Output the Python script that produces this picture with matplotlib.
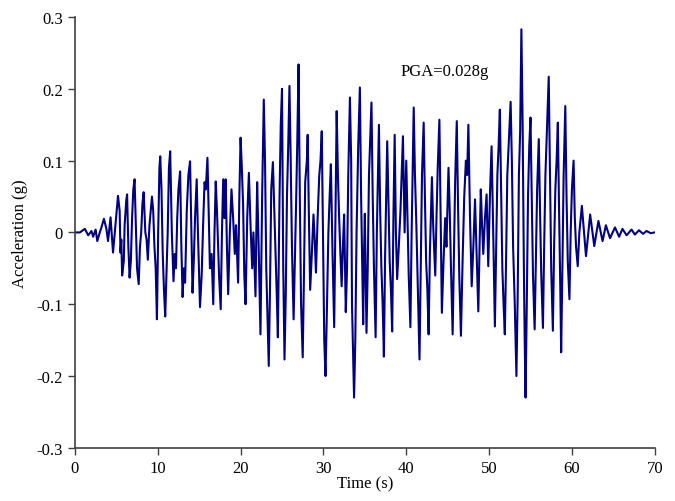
import matplotlib
matplotlib.use('Agg')
import matplotlib.pyplot as plt

# peaks, troughs and shoulders (time in s, acceleration in g)
time_s = [
    0, 0.6, 1.2, 1.6, 2.0, 2.2, 2.5, 2.7, 3.0, 3.2, 3.5, 3.8, 4.0, 4.3, 4.6, 4.9,
    5.2, 5.4, 5.5, 5.6, 5.7, 5.9, 6.0, 6.2, 6.3, 6.45, 6.6, 6.75, 6.9, 7.05, 7.2, 7.35,
    7.5, 7.7, 7.85, 8.0, 8.15, 8.3, 8.5, 8.65, 8.8, 9.0, 9.15, 9.3, 9.45, 9.6, 9.75, 9.9,
    10.05, 10.2, 10.3, 10.45, 10.6, 10.75, 10.9, 11.05, 11.2, 11.35, 11.5, 11.7, 11.9,
    12.05, 12.2, 12.35, 12.5, 12.7, 12.85, 13.0, 13.15, 13.3, 13.5, 13.7, 13.9, 14.05,
    14.2, 14.35, 14.5, 14.7, 14.85, 15.1, 15.3, 15.5, 15.65, 15.8, 16.0, 16.15, 16.3,
    16.5, 16.7, 16.85, 17.0, 17.15, 17.4, 17.6, 17.75, 17.9, 18.05, 18.2, 18.35, 18.5,
    18.7, 18.9, 19.1, 19.3, 19.45, 19.7, 19.85,
    20.0, 20.15, 20.3, 20.45, 20.6, 20.8, 21.0, 21.2, 21.4, 21.55, 21.8, 21.9, 22.0,
    22.2, 22.4, 22.6, 22.8, 22.95, 23.1, 23.25, 23.4, 23.55, 23.7, 23.9, 24.05, 24.2,
    24.35, 24.5, 24.7, 24.85, 25.0, 25.15, 25.3, 25.45, 25.6, 25.75, 25.9, 26.05, 26.2,
    26.4, 26.55, 26.7, 26.85, 27.0, 27.15, 27.3, 27.5, 27.65, 27.8, 28.0, 28.1, 28.25,
    28.4, 28.6, 28.8, 28.95, 29.1, 29.3, 29.5, 29.65, 29.8, 29.95,
    30.1, 30.25, 30.4, 30.6, 30.75, 30.9, 31.1, 31.3, 31.45, 31.6, 31.75, 31.9, 32.05,
    32.2, 32.35, 32.5, 32.7, 32.85, 33.0, 33.2, 33.35, 33.45, 33.7, 33.85, 34.0, 34.2,
    34.4, 34.55, 34.8, 34.9, 35.0, 35.2, 35.35, 35.5, 35.65, 35.8, 35.95, 36.1, 36.3,
    36.45, 36.7, 36.85, 37.0, 37.15, 37.3, 37.45, 37.7, 37.85, 38.0, 38.15, 38.3, 38.45,
    38.6, 38.75, 38.9, 39.1, 39.3, 39.45, 39.6, 39.8,
    40.0, 40.15, 40.3, 40.5, 40.65, 40.9, 41.05, 41.2, 41.4, 41.6, 41.75, 41.9, 42.1,
    42.25, 42.4, 42.55, 42.7, 42.85, 43.1, 43.25, 43.5, 43.65, 43.8, 44.0, 44.15, 44.3,
    44.5, 44.7, 44.85, 45.1, 45.25, 45.4, 45.6, 45.75, 45.9, 46.1, 46.25, 46.4, 46.6,
    46.8, 47.0, 47.2, 47.35, 47.5, 47.7, 47.9, 48.1, 48.3, 48.5, 48.7, 48.85, 49.0,
    49.15, 49.3, 49.5, 49.7, 49.9,
    50.1, 50.3, 50.5, 50.7, 50.85, 51.0, 51.15, 51.3, 51.45, 51.6, 51.75, 51.9, 52.05,
    52.2, 52.4, 52.6, 52.75, 52.9, 53.1, 53.3, 53.45, 53.6, 53.75, 53.9, 54.05, 54.2,
    54.3, 54.4, 54.55, 54.7, 54.85, 55.0, 55.15, 55.3, 55.5, 55.65, 55.8, 56.0, 56.15,
    56.3, 56.5, 56.65, 56.8, 57.0, 57.2, 57.35, 57.5, 57.7, 57.85, 58.0, 58.15, 58.3,
    58.45, 58.6, 58.7, 58.85, 59.0, 59.2, 59.35, 59.5, 59.7, 59.85,
    60.0, 60.2, 60.35, 60.5, 60.7, 60.9, 61.2, 61.7, 62.2, 62.7, 63.2, 63.7, 64.1,
    64.6, 65.2, 65.7, 66.1, 66.6, 67.2, 67.6, 68.1, 68.6, 69.0, 69.5, 70.0]

acc_g = [
    0, 0.0, 0.005, -0.004, 0.002, -0.006, 0.004, -0.012, 0.0, 0.007, 0.019, 0.005,
    -0.012, 0.021, -0.028, 0.012,
    0.051, 0.03, -0.028, -0.01, -0.06, -0.04, 0.01, 0.045, 0.053, -0.02, -0.063, -0.04,
    0.02, 0.06, 0.074, 0.01,
    -0.05, -0.072, -0.02, 0.0, 0.04, 0.056, 0.0, -0.01, -0.038, 0.01, 0.03, 0.05, 0.03,
    -0.02, -0.05, -0.121,
    0.0, 0.09, 0.106, 0.06, -0.03, -0.08, -0.117, -0.06, 0.0, 0.09, 0.113, 0.0, -0.068,
    -0.03, -0.05, 0.02, 0.06, 0.085, -0.02, -0.09, -0.05, -0.07, 0.03, 0.08, 0.099, 0.01,
    -0.084, -0.04, 0.02, 0.074, 0.0, -0.104, -0.06, 0.02, 0.07, 0.06, 0.104, 0.03, -0.05,
    -0.03, -0.1, 0.0, 0.071, 0.03, -0.06, -0.107, 0.0, 0.074, 0.02, 0.074, -0.02, -0.086,
    0.0, 0.06, 0.02, -0.03, 0.01, -0.07, 0.05,
    0.132, 0.09, 0.04, -0.06, -0.1, 0.02, 0.083, 0.01, -0.05, 0.0, -0.089, 0.0, 0.07,
    -0.03, -0.142, 0.05, 0.185, 0.1, -0.05, -0.12, -0.186, -0.08, 0.06, 0.098, 0.04,
    -0.02,
    -0.08, -0.146, 0.05, 0.15, 0.2, -0.05, -0.177, -0.09, 0.05, 0.12, 0.204, 0.1, -0.02,
    -0.121, -0.04, 0.04, 0.13, 0.234, 0.05, -0.1, -0.174, -0.06, 0.07, 0.1, 0.136, 0.02,
    -0.08, -0.03, 0.025, -0.01, -0.056, 0.02, 0.08, 0.1, 0.141, 0.0,
    -0.15, -0.2, -0.12, 0.0, 0.05, 0.095, -0.03, -0.132, 0.02, 0.169, 0.08, 0.02, -0.03,
    -0.075, -0.02, 0.025, -0.111, -0.05, 0.08, 0.188, 0.1, -0.1, -0.23, -0.15, 0.0, 0.12,
    0.202, 0.05, -0.128, -0.03, 0.026, -0.14, -0.05, 0.08, 0.13, 0.181, 0.05, -0.05,
    -0.146,
    0.0, 0.15, 0.03, -0.05, -0.1, -0.173, -0.03, 0.127, 0.04, -0.04, -0.08, -0.138, 0.02,
    0.136, 0.0, -0.065, -0.02, 0.03, 0.08, 0.134, 0.0,
    0.1, 0.02, -0.06, -0.132, 0.0, 0.174, 0.08, 0.02, -0.08, -0.177, -0.05, 0.08, 0.153,
    0.05, -0.04, -0.08, -0.142, -0.03, 0.077, 0.01, -0.06, 0.02, 0.09, 0.157, 0.02,
    -0.112,
    -0.04, 0.02, -0.02, 0.09, 0.03, -0.05, -0.142, -0.04, 0.07, 0.155, 0.04, -0.06,
    -0.144,
    -0.04, 0.05, 0.1, 0.08, 0.15, 0.02, -0.075, -0.02, 0.046, -0.03, -0.11, -0.02, 0.06,
    0.01, -0.03, 0.02, 0.053, -0.047,
    0.05, 0.12, 0.0, -0.131, -0.03, 0.08, 0.12, 0.171, 0.06, -0.05, -0.1, -0.142, -0.04,
    0.08, 0.13, 0.182, 0.1, -0.02, -0.1, -0.2, -0.09, 0.08, 0.14, 0.283, 0.15, -0.05,
    -0.15, -0.23, -0.1, 0.05, 0.12, 0.16, 0.05, -0.06, -0.135, -0.04, 0.06, 0.13, 0.03,
    -0.06, -0.133, -0.02, 0.08, 0.15, 0.217, 0.08, -0.05, -0.137, -0.02, 0.06, 0.1,
    0.153,
    0.03, -0.08, -0.167, -0.05, 0.08, 0.176, 0.05, -0.04, -0.093, 0.0,
    0.06, 0.1, 0.02, -0.02, -0.047, 0.0, 0.037, -0.033, 0.025, -0.019, 0.016, -0.012,
    0.01,
    -0.008, 0.007, -0.006, 0.005, -0.004, 0.004, -0.003, 0.003, -0.002, 0.002, -0.001,
    0.0]

x_ticks = [0, 10, 20, 30, 40, 50, 60, 70]
y_ticks = [-0.3, -0.2, -0.1, 0, 0.1, 0.2, 0.3]
y_labels = ['-0.3', '-0.2', '-0.1', '0', '0.1', '0.2', '0.3']

n = min(len(time_s), len(acc_g))
print(len(time_s), len(acc_g))

plt.rcParams['font.family'] = ['Liberation Serif', 'DejaVu Serif']

fig = plt.figure(figsize=(6.75, 5.02), dpi=100)
ax = fig.add_axes([0.111, 0.106, 0.859, 0.858])

ax.plot(time_s[:n], acc_g[:n], color='#000080', linewidth=1.5)

ax.set_xlim(0, 70)
ax.set_ylim(-0.3, 0.3)
ax.set_xticks(x_ticks)
ax.set_yticks(y_ticks)
ax.set_yticklabels(y_labels)
ax.tick_params(direction='out', length=5, width=1, labelsize=12, color='#404040')

for side in ['top', 'right']:
    ax.spines[side].set_visible(False)
for side in ['left', 'bottom']:
    ax.spines[side].set_color('#404040')
    ax.spines[side].set_linewidth(1.2)

ax.set_xlabel('Time (s)', fontsize=12, labelpad=0)
ax.set_ylabel('Acceleration (g)', fontsize=12, labelpad=6)

ax.text(44.6, 0.225, 'PGA=0.028g', fontsize=12, ha='center', va='center')

fig.savefig('out.png', dpi=100)
